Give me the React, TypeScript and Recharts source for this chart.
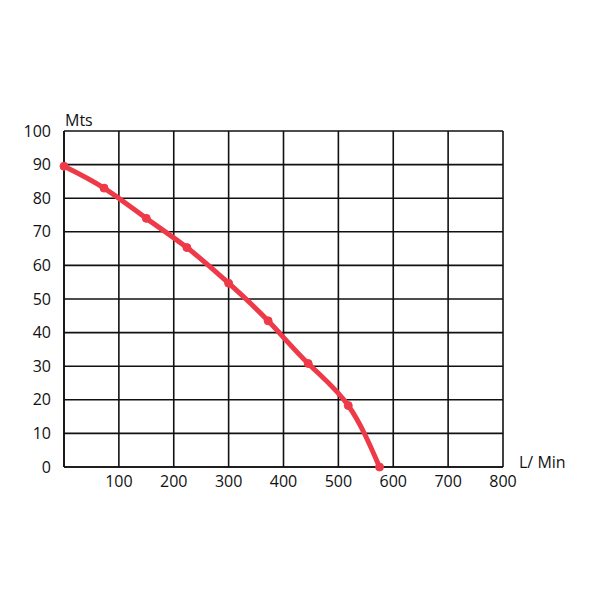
import React from 'react';
import { LineChart, Line, XAxis, YAxis, CartesianGrid } from 'recharts';

// pump curve: flow (L/min) vs head (m)
const flow = [0, 73, 150, 224, 300, 372, 445, 518, 575];
const head = [89.5, 83, 74, 65.3, 54.7, 43.5, 30.8, 18.3, 0];
const xTicks = [0, 100, 200, 300, 400, 500, 600, 700, 800];
const yTicks = [0, 10, 20, 30, 40, 50, 60, 70, 80, 90, 100];

const data = flow.map((f, i) => ({ flow: f, head: head[i] }));

const RED = '#EE3A48';
const FONT = '"Open Sans", "Noto Sans", sans-serif';

const App = () => (
  <div style={{ position: 'absolute', left: 0, top: 0, width: 600, height: 600, background: '#fff' }}>
    <LineChart width={600} height={600} data={data} margin={{ top: 131, right: 97, bottom: 103, left: 0 }}>
      <CartesianGrid stroke="#111" strokeWidth={1.6} />
      <XAxis
        dataKey="flow"
        type="number"
        domain={[0, 800]}
        ticks={xTicks}
        tickFormatter={(v: number) => (v === 0 ? '' : String(v))}
        axisLine={{ stroke: '#111', strokeWidth: 1.6 }}
        tickLine={false}
        tick={{ fill: '#111', fontSize: 16, fontFamily: FONT }}
        tickMargin={3}
        height={30}
      />
      <YAxis
        type="number"
        domain={[0, 100]}
        ticks={yTicks}
        axisLine={{ stroke: '#111', strokeWidth: 1.6 }}
        tickLine={false}
        tick={{ fill: '#111', fontSize: 16, fontFamily: FONT }}
        tickMargin={7}
        width={64}
      />
      <Line
        dataKey="head"
        type="natural"
        stroke={RED}
        strokeWidth={5}
        dot={{ r: 4, fill: RED, stroke: RED, strokeWidth: 1 }}
        isAnimationActive={false}
      />
      <text x={65} y={126} fontSize={16} fontFamily={FONT} fill="#111">Mts</text>
      <text x={519} y={468} fontSize={16} fontFamily={FONT} fill="#111">L/ Min</text>
    </LineChart>
  </div>
);

export default App;
